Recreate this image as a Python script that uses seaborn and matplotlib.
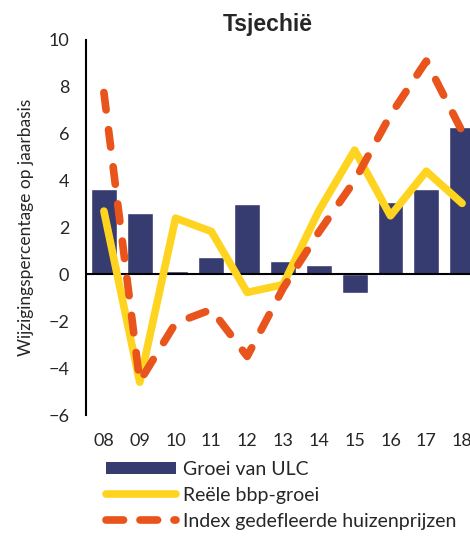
import numpy as np
import pandas as pd
import seaborn as sns
import matplotlib.pyplot as plt
from matplotlib.patches import Patch
from matplotlib.lines import Line2D

# Tsjechie: ULC, bbp en huizenprijzen
years = ['08', '09', '10', '11', '12', '13', '14', '15', '16', '17', '18']
ulc = [3.63, 2.6, 0.13, 0.73, 3.0, 0.55, 0.38, -0.8, 3.1, 3.63, 6.27]
bbp = [2.7, -4.6, 2.4, 1.83, -0.77, -0.44, 2.71, 5.3, 2.5, 4.4, 3.03]
huis = [7.76, -4.57, -2.08, -1.5, -3.5, -0.6, 1.8, 4.0, 6.8, 9.1, 6.1]

labels = ['Groei van ULC', 'Reële bbp-groei', 'Index gedefleerde huizenprijzen']
navy = '#363B70'
yellow = '#FFD420'
orange = '#E8541C'
dash = [2.3, 2.6]

sns.set_style('white')
plt.rcParams['font.family'] = ['Lato', 'DejaVu Sans']

df = pd.DataFrame({'year': years, 'ulc': ulc, 'bbp': bbp, 'huis': huis})
df['pos'] = np.arange(len(df))

fig = plt.figure(figsize=(4.7, 5.4), dpi=100)
ax = fig.add_axes([86 / 470, 1 - 415 / 540, 394 / 470, 375 / 540])

sns.barplot(data=df, x='year', y='ulc', color=navy, width=0.72, saturation=1, ax=ax)
sns.lineplot(data=df, x='pos', y='bbp', color=yellow, linewidth=5.5, sort=False, ax=ax)
sns.lineplot(data=df, x='pos', y='huis', color=orange, linewidth=5.5, sort=False, ax=ax)
ax.lines[-1].set_dashes(dash)
ax.lines[-1].set_dash_capstyle('round')
ax.lines[-2].set_solid_capstyle('round')

ax.axhline(0, color='black', linewidth=1.5, zorder=1.5)
ax.set_xlim(-0.5, 10.5)
ax.set_ylim(-6, 10)
ax.set_yticks(range(-6, 11, 2))
ax.set_xticks(range(len(years)))
ax.set_xticklabels(years)
ax.set_xlabel('')
ax.set_ylabel('Wijzigingspercentage op jaarbasis', fontsize=12.5, labelpad=10)
ax.tick_params(axis='x', length=0, pad=13, labelsize=13)
ax.tick_params(axis='y', length=0, pad=12, labelsize=13)
for s in ['top', 'right', 'bottom']:
    ax.spines[s].set_visible(False)
ax.spines['left'].set_color('black')
ax.spines['left'].set_linewidth(1.5)

fig.text(268 / 470, 1 - 24 / 540, 'Tsjechië', ha='center', va='center',
         fontsize=16.5, fontweight='bold', family='Liberation Sans')

handles = [
    Patch(facecolor=navy, edgecolor='none'),
    Line2D([], [], color=yellow, linewidth=5.5, solid_capstyle='round'),
    Line2D([], [], color=orange, linewidth=5.5, dashes=[2.3, 2.15], dash_capstyle='round'),
]
fig.legend(handles, labels, loc='upper left', bbox_to_anchor=(106 / 470, 1 - 461 / 540),
           frameon=False, fontsize=14, handlelength=3.6, handleheight=0.55,
           handletextpad=0.35, labelspacing=0.45, borderaxespad=0, borderpad=0)

fig.savefig('out.png', dpi=100)
